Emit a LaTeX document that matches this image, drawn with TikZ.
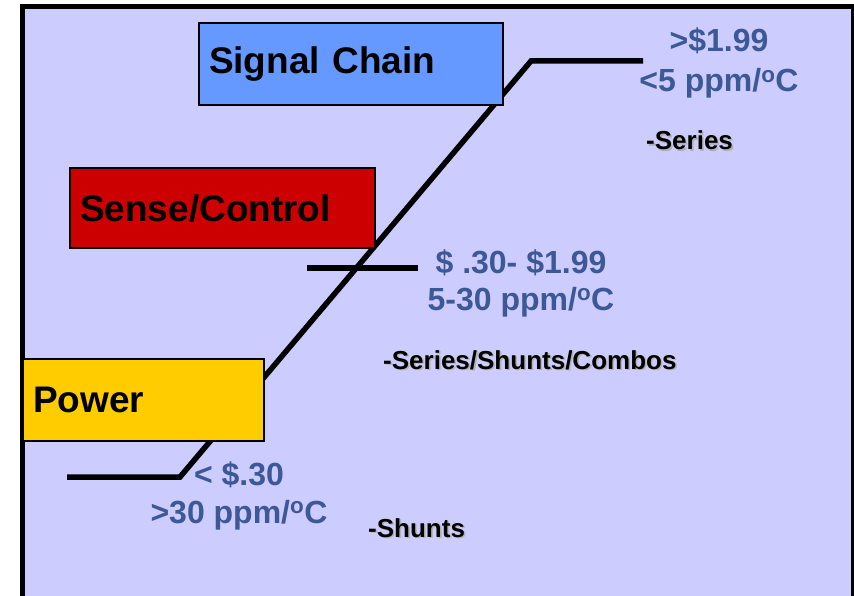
\documentclass[tikz,border=0pt]{standalone}
\usepackage{fontspec}
\setmainfont{Liberation Sans}
\usetikzlibrary{positioning}
\definecolor{lavbg}{RGB}{204,204,255}
\definecolor{chainblue}{RGB}{102,153,255}
\definecolor{sensered}{RGB}{204,0,0}
\definecolor{poweryellow}{RGB}{255,204,0}
\definecolor{pricetext}{RGB}{60,88,150}
\newcommand{\shtext}[1]{\rlap{\kern1.6pt\raisebox{-1.6pt}{\color{black!30}#1}}#1}

\begin{document}
\begin{tikzpicture}[x=1pt,y=-1pt,every node/.style={font=\bfseries},
  tier/.style={draw=black,line width=2pt,anchor=north west,inner xsep=10pt,inner ysep=0pt,align=left,font=\fontsize{37}{44}\bfseries},
  price/.style={anchor=base,align=center,text=pricetext,inner sep=0pt},
  kind/.style={anchor=base west,inner sep=0pt,font=\fontsize{26}{30}\bfseries}]
\useasboundingbox (0,0) rectangle (854,596);
\draw[line width=5pt,fill=lavbg] (22,7) rectangle (853,660);
\coordinate (v0) at (67,477);
\coordinate (v1) at (180,477);
\coordinate (v2) at (531,61);
\coordinate (v3) at (643,61);
\coordinate (m0) at (307,268);
\coordinate (m1) at (418,268);
\draw[line width=5.5pt] (v0)--(v1)--(v2)--(v3);
\draw[line width=5.5pt] (m0)--(m1);
\node[tier,fill=chainblue,text width=284pt,minimum height=82pt] (chain) at (198,22) {Signal Chain};
\node[tier,fill=sensered,text width=285pt,minimum height=80pt] (sense) at (69,167) {Sense/Control};
\node[tier,fill=poweryellow,text width=221pt,minimum height=82pt] (power) at (22,358) {Power};
\node[price,font=\fontsize{32}{40}\bfseries] (ptop) at (719,92) {>\$1.99\\<5 ppm/\textsuperscript{o}C};
\node[price,font=\fontsize{32}{37}\bfseries] (pmid) at (521,310) {\$ .30- \$1.99\\5-30 ppm/\textsuperscript{o}C};
\node[price,font=\fontsize{32}{38}\bfseries] (plow) at (239,523) {< \$.30\\>30 ppm/\textsuperscript{o}C};
\node[kind] (ktop) at (646,150) {\shtext{-Series}};
\node[kind] (kmid) at (383,369) {\shtext{-Series/Shunts/Combos}};
\node[kind] (klow) at (368,537) {\shtext{-Shunts}};
\end{tikzpicture}
\end{document}
